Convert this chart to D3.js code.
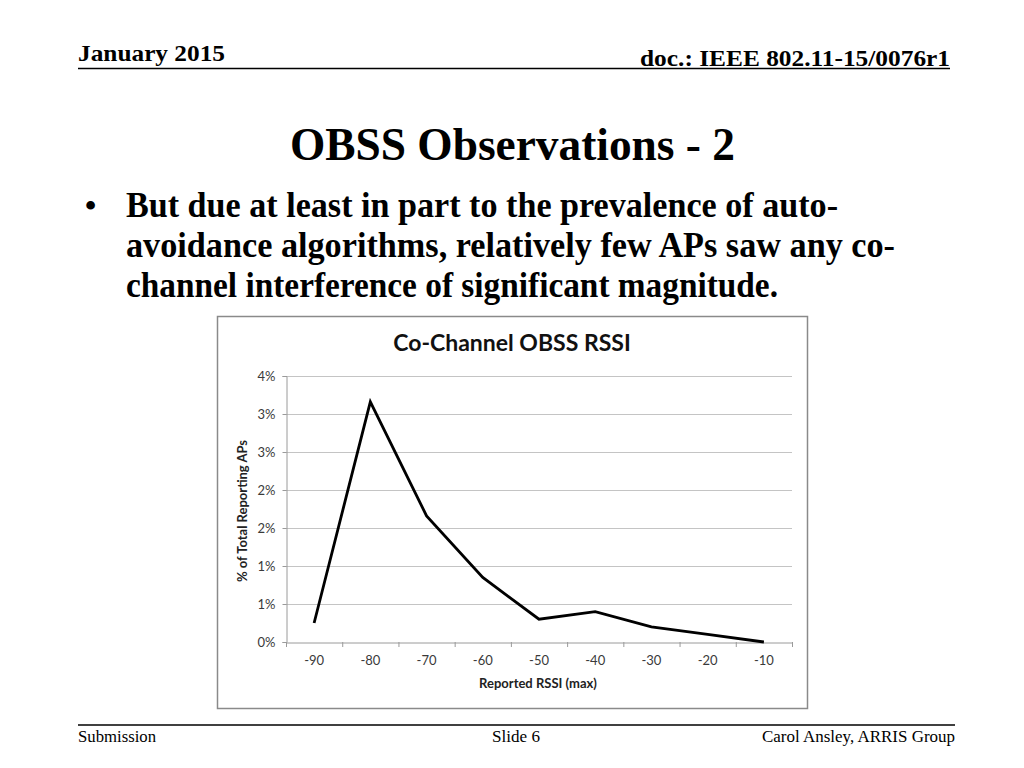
<!DOCTYPE html>
<html>
<head>
	<meta charset="utf-8">
	<title>OBSS Observations - 2</title>
	<script src="https://cdn.jsdelivr.net/npm/d3@7/dist/d3.min.js"></script>
	<style type="text/css">
		body{
			margin: 0;
			padding: 0;
			background: #fff;
		}
		svg{
			display: block;
		}
		.slide{
			font-family: "Liberation Serif", "Times New Roman", serif;
			fill: #000;
		}
		.chart text{
			font-family: Lato, "Open Sans", sans-serif;
		}
	</style>
</head>
<body>
	<svg id="svg" width="1024" height="768"></svg>
</body>
	<script type="text/javascript">
		// chart data (% of total reporting APs per RSSI bucket)
		let categories = ['-90','-80','-70','-60','-50','-40','-30','-20','-10'];
		let values = [0.0025, 0.0316, 0.0166, 0.0085, 0.0030, 0.0040, 0.0020, 0.0010, 0.0000];
		let yTicks = [0, 0.005, 0.01, 0.015, 0.02, 0.025, 0.03, 0.035];
		let yTickLabels = ['0%','1%','1%','2%','2%','3%','3%','4%'];

		let bulletLines = [
			'But due at least in part to the prevalence of auto-',
			'avoidance algorithms, relatively few APs saw any co-',
			'channel interference of significant magnitude.'
		];

		let svg = d3.select('#svg');

		drawSlide();
		drawChart();

		function drawSlide(){
			let g = svg.append('g').attr('class','slide');

			// header
			g.append('text')
				.attr('x',78).attr('y',61)
				.attr('textLength',147).attr('lengthAdjust','spacingAndGlyphs')
				.style('font-size','24px').style('font-weight','bold')
				.text('January 2015');
			g.append('text')
				.attr('x',950).attr('y',66)
				.attr('text-anchor','end')
				.attr('textLength',310).attr('lengthAdjust','spacingAndGlyphs')
				.style('font-size','24px').style('font-weight','bold')
				.text('doc.: IEEE 802.11-15/0076r1');
			g.append('line')
				.attr('x1',78).attr('x2',950).attr('y1',68.5).attr('y2',68.5)
				.style('stroke','#000').style('stroke-width',1.5);

			// title
			g.append('text')
				.attr('x',290).attr('y',160)
				.attr('textLength',445).attr('lengthAdjust','spacingAndGlyphs')
				.style('font-size','47px').style('font-weight','bold')
				.text('OBSS Observations - 2');

			// bullet
			g.append('text')
				.attr('x',85).attr('y',216)
				.style('font-size','32px').style('font-weight','bold')
				.text('•');
			let lens = [712,769,652];
			bulletLines.forEach(function(t,i){
				g.append('text')
					.attr('x',126).attr('y',217+40*i)
					.attr('textLength',lens[i]).attr('lengthAdjust','spacingAndGlyphs')
					.style('font-size','36px').style('font-weight','bold')
					.text(t);
			});

			// footer
			g.append('line')
				.attr('x1',78).attr('x2',955).attr('y1',725).attr('y2',725)
				.style('stroke','#000').style('stroke-width',1.5);
			g.append('text')
				.attr('x',78).attr('y',742)
				.attr('textLength',78).attr('lengthAdjust','spacingAndGlyphs')
				.style('font-size','17px')
				.text('Submission');
			g.append('text')
				.attr('x',516).attr('y',742)
				.attr('text-anchor','middle')
				.attr('textLength',48).attr('lengthAdjust','spacingAndGlyphs')
				.style('font-size','17px')
				.text('Slide 6');
			g.append('text')
				.attr('x',955).attr('y',742)
				.attr('text-anchor','end')
				.attr('textLength',193).attr('lengthAdjust','spacingAndGlyphs')
				.style('font-size','17px')
				.text('Carol Ansley, ARRIS Group');
		}

		function drawChart(){
			let left = 286, right = 792, top = 376, bottom = 642;
			let g = svg.append('g').attr('class','chart');

			// frame
			g.append('rect')
				.attr('x',217.5).attr('y',316.5)
				.attr('width',590).attr('height',392)
				.style('fill','#fff')
				.style('stroke','#8a8a8a')
				.style('stroke-width',1.5);

			g.append('text')
				.attr('x',512).attr('y',351)
				.attr('text-anchor','middle')
				.style('font-size','23px').style('font-weight','bold')
				.style('fill','#111')
				.text('Co-Channel OBSS RSSI');

			let x = d3.scaleBand().domain(categories).range([left,right]).padding(0);
			let y = d3.scaleLinear().domain([0,0.035]).range([bottom,top]);

			// gridlines
			g.append('g')
				.selectAll('line')
				.data(yTicks.slice(1))
				.enter().append('line')
				.attr('x1',left).attr('x2',right)
				.attr('y1',d=>y(d)+0.5).attr('y2',d=>y(d)+0.5)
				.style('stroke','#c4c4c4')
				.style('stroke-width',1.2);

			// y axis
			let yAxis = g.append('g')
				.attr('transform','translate('+(left+0.5)+',0)')
				.call(d3.axisLeft(y).tickValues(yTicks).tickSize(4).tickPadding(7)
					.tickFormat((d,i)=>yTickLabels[i]));
			yAxis.select('.domain').style('stroke','#9a9a9a');
			yAxis.selectAll('.tick line').style('stroke','#9a9a9a');
			yAxis.selectAll('text')
				.style('font-size','13px')
				.style('fill','#3a3a3a')
				.style('font-family','Lato, "Open Sans", sans-serif');

			// x axis labels
			let xAxis = g.append('g')
				.attr('transform','translate(0,'+(bottom+0.5)+')')
				.call(d3.axisBottom(x).tickSize(0).tickPadding(13));
			xAxis.select('.domain').style('stroke','#9a9a9a');
			xAxis.selectAll('text')
				.style('font-size','13px')
				.style('fill','#3a3a3a')
				.style('font-family','Lato, "Open Sans", sans-serif');

			// tick marks between categories
			let edges = categories.map(c=>x(c)).concat([x.range()[1]]);
			g.append('g')
				.selectAll('line')
				.data(edges)
				.enter().append('line')
				.attr('x1',d=>d+0.5).attr('x2',d=>d+0.5)
				.attr('y1',bottom).attr('y2',bottom+5)
				.style('stroke','#9a9a9a');

			// axis titles
			g.append('text')
				.attr('transform','translate(247,511) rotate(-90)')
				.attr('text-anchor','middle')
				.style('font-size','13px').style('font-weight','bold')
				.style('fill','#222')
				.text('% of Total Reporting APs');
			g.append('text')
				.attr('x',538).attr('y',688)
				.attr('text-anchor','middle')
				.style('font-size','13px').style('font-weight','bold')
				.style('fill','#222')
				.text('Reported RSSI (max)');

			// line
			let line = d3.line()
				.x((d,i)=>x(categories[i])+x.bandwidth()/2)
				.y(d=>y(d));
			g.append('path')
				.datum(values)
				.attr('d',line)
				.style('fill','none')
				.style('stroke','#000')
				.style('stroke-width',2.8)
				.style('stroke-linejoin','miter');
		}
	</script>
</html>
